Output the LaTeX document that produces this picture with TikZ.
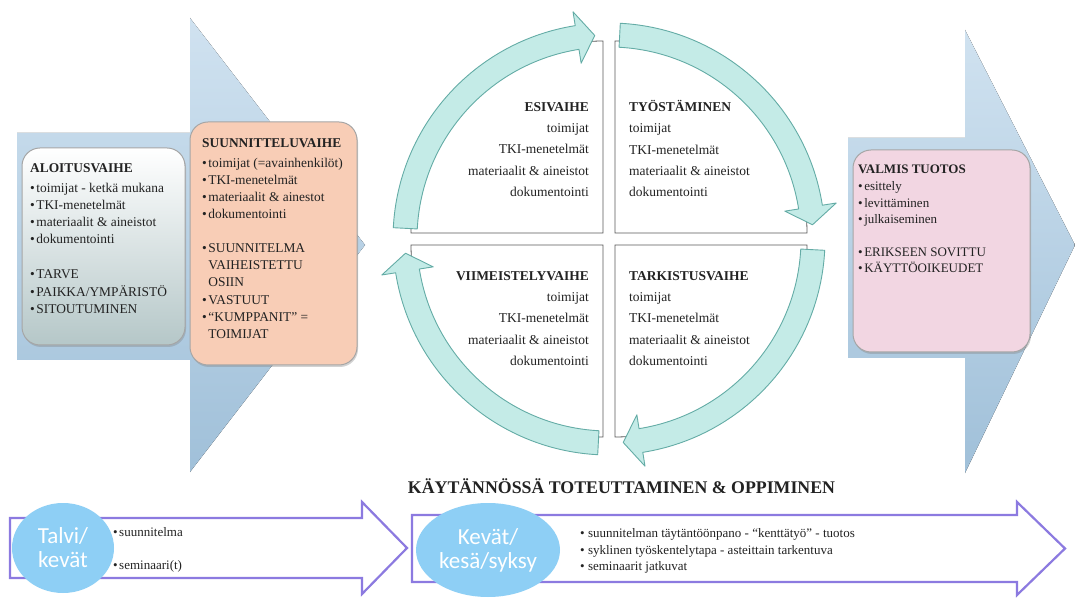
\documentclass[tikz,border=0pt]{standalone}
\usepackage{fontspec}
\setmainfont{Liberation Serif}
\newfontfamily\seasonfont{Carlito}
\usetikzlibrary{shapes.geometric,shadows}

\definecolor{arrowblue}{RGB}{208,226,240}
\definecolor{arrowbluedark}{RGB}{160,192,217}
\definecolor{startgrey}{RGB}{181,199,200}
\definecolor{planpeach}{RGB}{248,205,182}
\definecolor{readypink}{RGB}{242,214,226}
\definecolor{cyclefill}{RGB}{196,235,231}
\definecolor{cycleedge}{RGB}{100,172,166}
\definecolor{timepurple}{RGB}{140,122,224}
\definecolor{seasonblue}{RGB}{142,207,245}
\definecolor{txt}{RGB}{34,34,34}

\newcommand\itm{\textbullet\hspace{1.5pt}}
\newcommand\ind{\hphantom{\textbullet\hspace{1.5pt}}}
\newcommand\phase[1]{\textbf{#1}\vphantom{Ö}}

\begin{document}
\begin{tikzpicture}[x=1pt, y=1pt,
	bigarrow/.style={top color=arrowblue, bottom color=arrowbluedark, draw=none},
	stagebox/.style={rounded corners=18pt, draw=black!35, line width=1pt,
		drop shadow={opacity=0.35, shadow xshift=1pt, shadow yshift=-2pt}},
	stagetext/.style={anchor=north west, inner sep=0pt, align=left, text=txt,
		font=\fontsize{13.4}{17.3}\selectfont},
	quad/.style={draw=black!65, fill=white, line width=0.8pt},
	quadtext/.style={inner sep=0pt, text=txt, font=\fontsize{13.5}{21.3}\selectfont},
	cyclearrow/.style={fill=cyclefill, draw=cycleedge, line width=0.9pt, line join=round},
	timeline/.style={draw=timepurple, line width=2.2pt, fill=white, line join=miter},
	season/.style={ellipse, fill=seasonblue, text=white, inner sep=0pt, align=center,
		font=\seasonfont\fontsize{23}{24}\selectfont},
	itemtext/.style={inner sep=0pt, text=txt, font=\fontsize{13}{16.5}\selectfont}]

	\useasboundingbox[fill=white] (0,0) rectangle (1075,597);

	% big background arrows
	\fill[bigarrow] (17,237) -- (190,237) -- (190,125) -- (365,352) -- (190,579) -- (190,464) -- (17,464) -- cycle;
	\fill[bigarrow] (848,239) -- (965,239) -- (965,124) -- (1075,352) -- (965,567) -- (965,459) -- (848,459) -- cycle;

	% stages
	\node[stagebox, top color=white, bottom color=startgrey, minimum width=163pt, minimum height=197pt] (aloitus) at (103.5,350.5) {};
	\node[stagebox, fill=planpeach, minimum width=167pt, minimum height=243pt] (suunnittelu) at (273.5,353.5) {};
	\node[stagebox, fill=readypink, minimum width=177pt, minimum height=202pt] (valmis) at (941.5,346) {};

	\node[stagetext] (aloitusteksti) at (30,436) {\phase{ALOITUSVAIHE}\\[2.7pt]
		\itm toimijat - ketkä mukana\\
		\itm TKI-menetelmät\\
		\itm materiaalit \& aineistot\\
		\itm dokumentointi\\[17.5pt]
		\itm TARVE\\
		\itm PAIKKA/YMPÄRISTÖ\\
		\itm SITOUTUMINEN};
	\node[stagetext] (suunnitteluteksti) at (202,461) {\phase{SUUNNITTELUVAIHE}\\[2.7pt]
		\itm toimijat (=avainhenkilöt)\\
		\itm TKI-menetelmät\\
		\itm materiaalit \& ainestot\\
		\itm dokumentointi\\[16pt]
		\itm SUUNNITELMA\\
		\ind VAIHEISTETTU\\
		\ind OSIIN\\
		\itm VASTUUT\\
		\itm ``KUMPPANIT'' =\\
		\ind TOIMIJAT};
	\node[stagetext, font=\fontsize{13}{16.5}\selectfont] (valmisteksti) at (858,434) {\phase{VALMIS TUOTOS}\\[0.5pt]
		\itm esittely\\
		\itm levittäminen\\
		\itm julkaiseminen\\[16pt]
		\itm ERIKSEEN SOVITTU\\
		\itm KÄYTTÖOIKEUDET};

	% cycle quadrants
	\foreach \ang/\dx/\dy in {90/-6/6, 0/6/6, -90/6/-6, 180/-6/-6}
		\draw[quad, shift={(609,358)}] (\dx,\dy) -- ++(\ang:192) arc[start angle=\ang, end angle=\ang+90, radius=192] -- cycle;

	% cycle arrows
	\foreach \k in {0,1,2,3}{
		\pgfmathsetmacro\tailang{177-90*\k}
		\pgfmathsetmacro\baseang{99-90*\k}
		\pgfmathsetmacro\tipang{94-90*\k}
		\draw[cyclearrow, shift={(609,358)}] (\tailang:216) arc[start angle=\tailang, end angle=\baseang, radius=216]
			-- (\baseang:230) -- (\tipang:204) -- (\baseang:178) -- (\baseang:192)
			arc[start angle=\baseang, end angle=\tailang, radius=192] -- cycle;
	}

	\node[quadtext, anchor=north east, align=right] (esivaihe) at (589,497) {\phase{ESIVAIHE}\\
		toimijat\\ TKI-menetelmät\\ materiaalit \& aineistot\\ dokumentointi};
	\node[quadtext, anchor=north west, align=left] (tyostaminen) at (629,497) {\phase{TYÖSTÄMINEN}\\
		toimijat\\ TKI-menetelmät\\ materiaalit \& aineistot\\ dokumentointi};
	\node[quadtext, anchor=north east, align=right] (viimeistely) at (589,328) {\phase{VIIMEISTELYVAIHE}\\
		toimijat\\ TKI-menetelmät\\ materiaalit \& aineistot\\ dokumentointi};
	\node[quadtext, anchor=north west, align=left] (tarkistus) at (629,328) {\phase{TARKISTUSVAIHE}\\
		toimijat\\ TKI-menetelmät\\ materiaalit \& aineistot\\ dokumentointi};

	% timeline
	\node[anchor=base, text=txt, font=\bfseries\fontsize{17.8}{18}\selectfont] (kaytannossa) at (621.5,103.5) {KÄYTÄNNÖSSÄ TOTEUTTAMINEN \& OPPIMINEN};

	\draw[timeline] (10,19) -- (10,79) -- (362,79) -- (362,95) -- (407,49) -- (362,3) -- (362,19) -- cycle;
	\draw[timeline] (412,15) -- (412,82) -- (1017,82) -- (1017,95) -- (1065,48.5) -- (1017,2) -- (1017,15) -- cycle;

	\node[season, minimum width=102pt, minimum height=90pt] (talvi) at (63,49) {Talvi/\\kevät};
	\node[season, minimum width=144pt, minimum height=94pt] (kevat) at (488,47) {Kevät/\\kesä/syksy};

	\node[itemtext, anchor=base west] (talvisuunnitelma) at (113,60.5) {\itm suunnitelma};
	\node[itemtext, anchor=base west] (talviseminaari) at (113,27.5) {\itm seminaari(t)};
	\node[itemtext, anchor=north west, align=left] (kevatlista) at (580,68.5) {\textbullet\ suunnitelman täytäntöönpano - ``kenttätyö'' - tuotos\\
		\textbullet\ syklinen työskentelytapa - asteittain tarkentuva\\
		\textbullet\ seminaarit jatkuvat};

\end{tikzpicture}
\end{document}
